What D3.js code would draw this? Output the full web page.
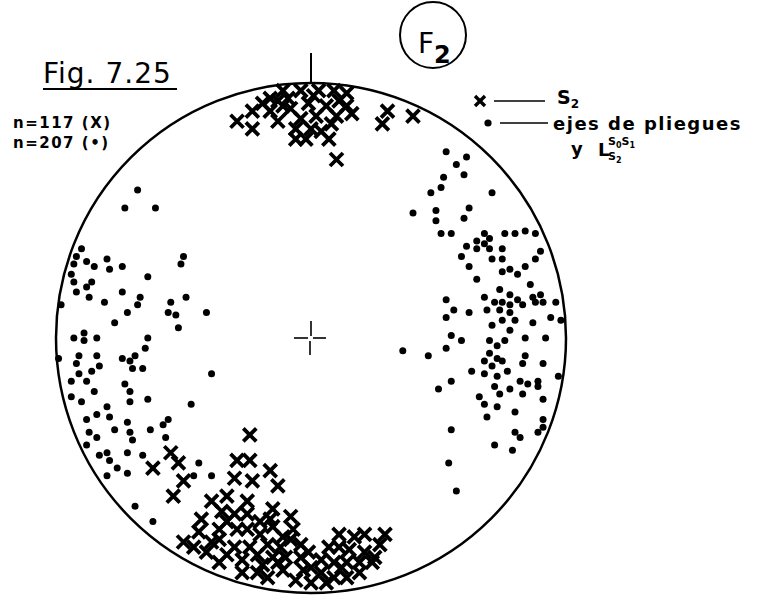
<!DOCTYPE html>
<html>
<head>
<meta charset="utf-8">
<script src="https://cdn.jsdelivr.net/npm/d3@7"></script>
<style>
  body { margin: 0; background: #fff; }
  svg text { fill: #000; font-family: "DejaVu Sans", sans-serif; }
</style>
</head>
<body>
<svg id="net" width="768" height="599"></svg>
<script>
// Stereonet positions in net units: radius of the primitive circle = 100, x east, y north.
// Fold axes and L(S0/S1, S2) intersection lineations (dots)
let fold_axes = [
  [-68,58],[-73,51],[-61,51],[-90,35],[-92,32],[-88,30],[-80,31],[-93,29],[-85,28],[-79,27],
  [-74,28],[-50,32],[-51,29],[-94,25],[-64,24],[-93,22],[-86,22],[-88,20],[-92,18],[-87,16],
  [-74,18],[-67,16],[-49,16],[-81,14],[-98,13],[-68,13],[-55,14],[-72,10],[-56,10],[-53,9],
  [-41,10],[-52,4],[-77,6],[-93,0],[-89,2],[-84,0],[-89,-1],[-64,0],[-65,-4],[-99,-8],
  [-91,-7],[-84,-7],[-74,-8],[-71,-9],[-69,-7],[-92,-10],[-83,-11],[-70,-12],[-66,-12],[-86,-13],
  [-91,-14],[-39,-14],[-94,-17],[-88,-17],[-73,-18],[-71,-21],[-85,-21],[-94,-23],[-90,-25],[-80,-27],
  [-71,-25],[-64,-24],[-47,-26],[-84,-30],[-79,-31],[-88,-32],[-72,-33],[-56,-32],[-58,-34],[-77,-36],
  [-71,-37],[-63,-36],[-87,-37],[-84,-39],[-70,-40],[-57,-39],[-88,-42],[-80,-45],[-83,-46],[-79,-48],
  [-72,-45],[-66,-46],[-44,-49],[-76,-51],[-72,-53],[-80,-54],[-46,-54],[-39,-54],[-69,-66],[-62,-72],
  [53,73],[61,71],[57,68],[60,64],[52,63],[51,59],[47,57],[71,57],[40,49],[49,50],
  [62,51],[49,46],[60,47],[51,41],[55,41],[68,41],[76,41],[80,41],[84,42],[88,41],
  [70,39],[65,38],[68,37],[61,36],[70,35],[65,35],[75,35],[90,34],[59,32],[71,31],
  [75,31],[88,31],[62,28],[84,28],[78,27],[75,26],[81,25],[65,23],[86,21],[74,19],
  [53,15],[68,16],[78,17],[81,15],[87,16],[90,17],[72,14],[75,14],[78,13],[83,13],
  [88,14],[91,14],[96,14],[56,11],[62,10],[69,11],[74,11],[78,10],[53,8],[80,7],
  [94,8],[98,7],[87,6],[84,0],[92,0],[84,-7],[83,-10],[91,-10],[97,-15],[85,-18],
  [89,-17],[89,-19],[83,-22],[91,-24],[71,5],[75,7],[78,3],[55,1],[59,-1],[70,-1],
  [76,-1],[73,-3],[36,-5],[46,-7],[53,-4],[70,-6],[73,-8],[68,-9],[75,-9],[71,-11],
  [63,-13],[68,-14],[77,-13],[73,-15],[55,-17],[82,-17],[50,-20],[72,-19],[78,-20],[74,-22],
  [66,-23],[68,-26],[73,-27],[80,-29],[69,-31],[91,-32],[91,-35],[55,-36],[80,-37],[89,-37],
  [82,-39],[72,-42],[79,-44],[54,-49],[57,-60]
];

// Poles to S2 (crosses)
let s2_poles = [
  [-24,-38],[-29,-48],[-24,-48],[-30,-55],[-23,-56],[-16,-52],[-13,-58],[-55,-45],[-52,-49],[-62,-51],
  [-50,-56],[-54,-62],[-39,-64],[-25,-64],[-15,-67],[-35,-68],[-30,-69],[-43,-71],[-25,-69],[-16,-71],
  [-44,-76],[-36,-75],[-29,-75],[-25,-75],[-20,-77],[-15,-74],[-7,-75],[-50,-80],[-41,-84],[-36,-79],
  [-30,-82],[-24,-82],[-17,-81],[-12,-82],[-4,-81],[-36,-88],[-27,-87],[-21,-85],[-15,-86],[-10,-86],
  [-4,-86],[4,-87],[11,-77],[17,-78],[21,-77],[27,-81],[11,-82],[15,-83],[21,-84],[9,-88],
  [14,-88],[19,-88],[24,-88],[-27,-92],[-21,-92],[-17,-94],[-11,-91],[-6,-95],[0,-96],[4,-92],
  [9,-94],[14,-94],[19,-92],[0,-90],[-19,-89],[-8,-79],[-33,-62],
  [-33,-72],[-20,-72],[-11,-78],[-1,-84],[7,-82],[25,-86],[29,-77],[-39,-80],[-33,-85],[-13,-88],
  [-3,-91],[6,-96],[12,-90],[-46,-82],[-8,-70],
  [-29,85],[-23,89],[-23,82],[-16,94],[-16,89],[-11,97],[-11,91],[-4,97],[3,97],[9,97],
  [14,96],[-8,90],[-1,92],[6,91],[14,91],[16,88],[-4,86],[2,87],[10,87],[-6,82],
  [0,82],[4,81],[-6,78],[-2,78],[7,78],[10,70],[30,89],[28,84],[40,87],[-13,93],
  [-19,92],[-9,94],[1,95],[11,93],[-13,85],[8,84]
];

let title_text = "Fig. 7.25";
let count_labels = ["n=117 (X)", "n=207 (\u2022)"];
let badge_label = ["F", "2"];
let legend_labels = ["S", "2", "ejes de pliegues", "y"];

let svg = d3.select("#net");

let cx = 311, cy = 338, radius = 255;
let x = d3.scaleLinear().domain([-100, 100]).range([cx - radius, cx + radius]);
let y = d3.scaleLinear().domain([-100, 100]).range([cy + radius, cy - radius]);

// primitive circle
svg.append("circle")
    .attr("cx", x(0)).attr("cy", y(0)).attr("r", x(100) - x(0))
    .attr("fill", "none").attr("stroke", "#000").attr("stroke-width", 2.5);

// north tick
svg.append("line")
    .attr("x1", x(0)).attr("x2", x(0))
    .attr("y1", y(100) - 30).attr("y2", y(100))
    .attr("stroke", "#000").attr("stroke-width", 2);

// centre cross
let g_centre = svg.append("g").attr("stroke", "#000").attr("stroke-width", 1.6);
g_centre.append("line").attr("x1", x(0)).attr("x2", x(0)).attr("y1", y(0) - 17).attr("y2", y(0) - 2);
g_centre.append("line").attr("x1", x(0) - 1).attr("x2", x(0) - 1).attr("y1", y(0) + 3).attr("y2", y(0) + 17);
g_centre.append("line").attr("x1", x(0) - 17).attr("x2", x(0) - 3).attr("y1", y(0)).attr("y2", y(0));
g_centre.append("line").attr("x1", x(0) + 2).attr("x2", x(0) + 15).attr("y1", y(0)).attr("y2", y(0));

// fold axes
svg.append("g").selectAll("circle")
    .data(fold_axes).enter().append("circle")
    .attr("cx", d => x(d[0])).attr("cy", d => y(d[1]))
    .attr("r", 3.5).attr("fill", "#000");

// poles to S2
let xs = 6.5;
svg.append("g").selectAll("path")
    .data(s2_poles).enter().append("path")
    .attr("transform", d => "translate(" + x(d[0]) + "," + y(d[1]) + ")")
    .attr("d", "M" + (-xs) + "," + (-xs) + "L" + xs + "," + xs + "M" + (-xs) + "," + xs + "L" + xs + "," + (-xs))
    .attr("stroke", "#000").attr("stroke-width", 3.8).attr("fill", "none");

// title
svg.append("text").attr("x", 43).attr("y", 83)
    .style("font-size", "28px").style("letter-spacing", "1px")
    .text(title_text);
svg.append("line").attr("x1", 43).attr("x2", 177).attr("y1", 89).attr("y2", 89)
    .attr("stroke", "#000").attr("stroke-width", 2);

svg.selectAll(".count").data(count_labels).enter().append("text")
    .attr("class", "count")
    .attr("x", 13).attr("y", (d, i) => 128 + i * 20)
    .style("font-size", "15px").style("font-weight", "bold").style("letter-spacing", "1.5px")
    .text(d => d);

// F2 badge
svg.append("circle").attr("cx", 433).attr("cy", 35).attr("r", 33)
    .attr("fill", "none").attr("stroke", "#000").attr("stroke-width", 2);
let badge = svg.append("text").attr("x", 418).attr("y", 53).style("font-size", "28px");
badge.append("tspan").text(badge_label[0]);
badge.append("tspan").attr("dy", 10).style("font-size", "24px").style("font-weight", "bold").text(badge_label[1]);

// legend
let lg = svg.append("g");
lg.append("path").attr("transform", "translate(480,101)")
    .attr("d", "M-5,-5L5,5M-5,5L5,-5").attr("stroke", "#000").attr("stroke-width", 3.4);
lg.append("line").attr("x1", 494).attr("x2", 545).attr("y1", 101).attr("y2", 101)
    .attr("stroke", "#000").attr("stroke-width", 1.5);
let s2t = lg.append("text").attr("x", 557).attr("y", 104).style("font-weight", "bold");
s2t.append("tspan").style("font-size", "19px").text(legend_labels[0]);
s2t.append("tspan").attr("dy", 4).style("font-size", "12px").text(legend_labels[1]);

lg.append("circle").attr("cx", 488).attr("cy", 123).attr("r", 3.6).attr("fill", "#000");
lg.append("line").attr("x1", 500).attr("x2", 548).attr("y1", 123).attr("y2", 123)
    .attr("stroke", "#000").attr("stroke-width", 1.5);
lg.append("text").attr("x", 553).attr("y", 130).style("font-size", "18px").style("font-weight", "bold")
    .style("letter-spacing", "1.5px").text(legend_labels[2]);

let lt = lg.append("text").attr("x", 571).attr("y", 155).style("font-weight", "bold");
lt.append("tspan").style("font-size", "18px").text(legend_labels[3]);
lt.append("tspan").attr("x", 598).attr("y", 156).style("font-size", "18px").text("L");
lt.append("tspan").attr("x", 608).attr("y", 145).style("font-size", "11px").text("S");
lt.append("tspan").attr("dy", 3).style("font-size", "8px").text("0");
lt.append("tspan").attr("dy", -3).style("font-size", "11px").text("S");
lt.append("tspan").attr("dy", 3).style("font-size", "8px").text("1");
lt.append("tspan").attr("x", 608).attr("y", 160).style("font-size", "11px").text("S");
lt.append("tspan").attr("dy", 3).style("font-size", "8px").text("2");
</script>
</body>
</html>
